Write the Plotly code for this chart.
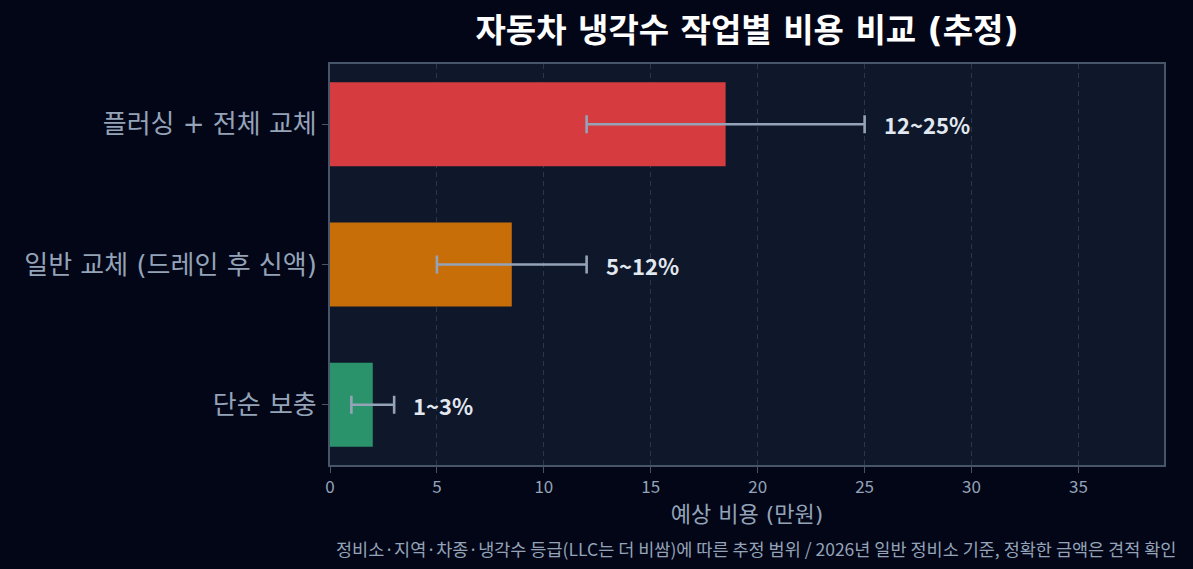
import plotly.graph_objects as go

categories = ["단순 보충", "일반 교체 (드레인 후 신액)", "플러싱 + 전체 교체"]
mid_cost = [2.0, 8.5, 18.5]
low_cost = [1, 5, 12]
high_cost = [3, 12, 25]
range_labels = ["1~3%", "5~12%", "12~25%"]
bar_colors = ["#2a936b", "#c76e08", "#d63c3f"]

FONT = "Noto Sans CJK KR"
WIDE = "DejaVu Sans, Noto Sans CJK KR"

err_plus = [h - m for h, m in zip(high_cost, mid_cost)]
err_minus = [m - l for m, l in zip(mid_cost, low_cost)]

fig = go.Figure()
fig.add_trace(go.Bar(
    x=mid_cost, y=categories, orientation="h",
    marker=dict(color=bar_colors, line=dict(width=0)),
    width=0.6,
    error_x=dict(type="data", symmetric=False, array=err_plus, arrayminus=err_minus,
                 color="#94a3b8", thickness=2.6, width=9),
    hoverinfo="skip",
))

for cat, hi, lab in zip(categories, high_cost, range_labels):
    fig.add_annotation(x=hi, y=cat, xref="x", yref="y", text=f"<b>{lab}</b>",
                       showarrow=False, xanchor="left", xshift=17,
                       font=dict(family=FONT, size=22, color="#e2e8f0"))

fig.add_annotation(
    text="정비소·지역·차종·냉각수 등급(LLC는 더 비쌈)에 따른 추정 범위 / 2026년 일반 정비소 기준, 정확한 금액은 견적 확인",
    xref="paper", yref="paper", x=1.0168, y=-0.2075, xanchor="right", yanchor="middle",
    showarrow=False, font=dict(family=FONT, size=17.5, color="#94a3b8"))

fig.update_layout(
    width=1193, height=569,
    margin=dict(l=330, r=29, t=64, b=104),
    paper_bgcolor="#020617", plot_bgcolor="#0f172a",
    showlegend=False,
    font=dict(family=FONT, color="#94a3b8"),
    title=dict(text="<b>자동차 냉각수 작업별 비용 비교 (추정)</b>", x=0.5, xref="paper",
               xanchor="center", y=1 - 30 / 569, yanchor="middle",
               font=dict(family=WIDE, size=33, color="#ffffff")),
    xaxis=dict(range=[0, 39], dtick=5, tick0=0,
               showgrid=True, gridcolor="#2a3649", griddash="5px,4px", gridwidth=1.2,
               zeroline=False,
               showline=True, mirror=True, linecolor="#475569", linewidth=2,
               ticks="outside", ticklen=6, tickcolor="#475569",
               tickfont=dict(family=FONT, size=17, color="#94a3b8"),
               title=dict(text="예상 비용 (만원)", standoff=9,
                          font=dict(family=WIDE, size=22, color="#94a3b8"))),
    yaxis=dict(type="category", range=[-0.43, 2.43],
               showgrid=False, zeroline=False,
               showline=True, mirror=True, linecolor="#475569", linewidth=2,
               ticks="outside", ticklen=6, tickcolor="#475569",
               tickfont=dict(family=WIDE, size=26, color="#94a3b8")),
)

fig.write_html("out.html")
